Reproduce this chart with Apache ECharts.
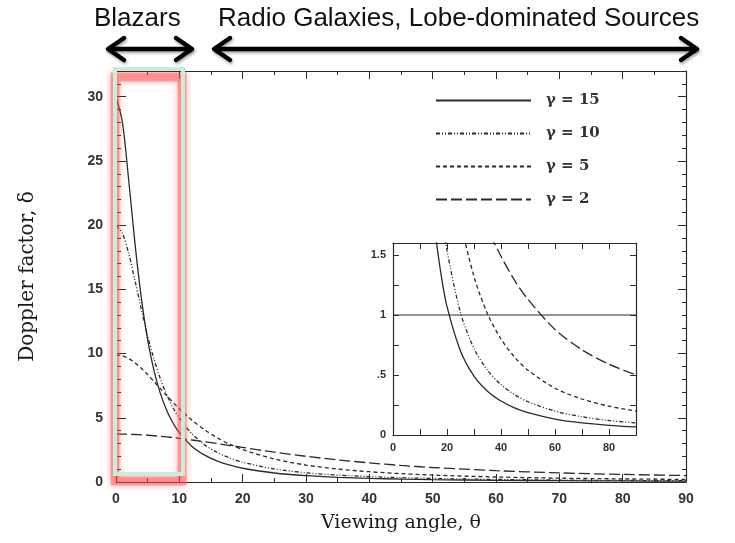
<!DOCTYPE html>
<html>
<head>
<meta charset="utf-8">
<script src="https://cdn.jsdelivr.net/npm/echarts@6/dist/echarts.min.js"></script>
<style>
  html, body { margin: 0; padding: 0; background: #fff; }
  #chart { width: 735px; height: 543px; }
</style>
</head>
<body>
<div id="chart"></div>
<script>
// viewing angle (deg) and Doppler factor
const theta = [0, 1, 2, 3, 4, 5, 6, 7, 8, 9, 10, 12, 14, 16, 18, 20, 25, 30, 35, 40, 45, 50, 60, 70, 80, 90]
const gamma15 = [29.96, 28.05, 23.53, 18.56, 14.32, 11.07, 8.67, 6.9, 5.59, 4.59, 3.84, 2.77, 2.09, 1.63, 1.31, 1.07, 0.7, 0.49, 0.365, 0.283, 0.226, 0.186, 0.133, 0.101, 0.081, 0.067]
const gamma10 = [19.95, 19.37, 17.8, 15.68, 13.45, 11.36, 9.56, 8.05, 6.8, 5.79, 4.97, 3.74, 2.89, 2.3, 1.86, 1.54, 1.02, 0.72, 0.54, 0.42, 0.337, 0.277, 0.199, 0.152, 0.121, 0.1]
const gamma5 = [9.9, 9.83, 9.61, 9.28, 8.85, 8.36, 7.82, 7.27, 6.73, 6.2, 5.7, 4.81, 4.06, 3.44, 2.93, 2.52, 1.79, 1.32, 1.01, 0.8, 0.65, 0.54, 0.39, 0.3, 0.24, 0.2]
const gamma2 = [3.73, 3.73, 3.72, 3.7, 3.67, 3.64, 3.6, 3.56, 3.51, 3.46, 3.4, 3.27, 3.13, 2.99, 2.84, 2.69, 2.32, 2.0, 1.72, 1.49, 1.29, 1.13, 0.88, 0.71, 0.59, 0.5]
const unityX = [0, 90]
const unityY = [1, 1]

const seriesDefs = [
  { name: 'γ = 15', values: gamma15, dash: 'solid' },
  { name: 'γ = 10', values: gamma10, dash: [4, 2, 1, 2, 1, 2] },
  { name: 'γ = 5', values: gamma5, dash: [4, 3] },
  { name: 'γ = 2', values: gamma2, dash: [11, 4] },
]

const ink = '#2a2a2a'
const pair = (xs, ys) => xs.map((x, i) => [x, ys[i]])

const chart = echarts.init(document.getElementById('chart'), null, { renderer: 'canvas' })

const frameAxis = {
  axisLine: { show: true, onZero: false, lineStyle: { color: ink, width: 1.2 } },
  splitLine: { show: false },
}

const tickLabel = { color: '#333', fontFamily: 'Liberation Sans', fontWeight: 'bold', fontSize: 14 }
const insetLabel = { color: '#333', fontFamily: 'Liberation Sans', fontWeight: 'bold', fontSize: 11 }
const titleFont = { color: '#1a1a1a', fontFamily: 'DejaVu Serif', fontSize: 19 }

const series = []
seriesDefs.forEach((s) => {
  const base = {
    type: 'line',
    name: s.name,
    symbol: 'none',
    smooth: 0.3,
    clip: true,
    data: pair(theta, s.values),
    lineStyle: { color: ink, width: 1.3, type: s.dash },
    itemStyle: { color: ink },
  }
  series.push({ ...base, xAxisIndex: 0, yAxisIndex: 0 })
  series.push({ ...base, xAxisIndex: 2, yAxisIndex: 2 })
})
series.push({
  type: 'line',
  name: 'unity',
  symbol: 'none',
  xAxisIndex: 2,
  yAxisIndex: 2,
  data: pair(unityX, unityY),
  lineStyle: { color: ink, width: 1 },
})

const arrowStyle = {
  stroke: '#000', lineWidth: 4.5, lineCap: 'round', lineJoin: 'round', fill: 'none',
  shadowBlur: 3, shadowColor: 'rgba(0,0,0,0.35)', shadowOffsetX: 1, shadowOffsetY: 2,
}

const option = {
  animation: false,
  backgroundColor: '#fff',
  grid: [
    { left: 116, right: 49, top: 71, bottom: 61 },
    { left: 393, top: 243, width: 243, height: 192, show: true, backgroundColor: '#fff', borderWidth: 0 },
  ],
  legend: {
    data: seriesDefs.map((s) => s.name),
    orient: 'vertical',
    left: 430,
    top: 88,
    itemWidth: 95,
    itemHeight: 14,
    itemGap: 18,
    itemStyle: { opacity: 0 },
    textStyle: { color: '#333', fontFamily: 'DejaVu Serif', fontWeight: 'bold', fontSize: 15, padding: [0, 0, 0, 10] },
  },
  xAxis: [
    {
      ...frameAxis, gridIndex: 0, type: 'value', position: 'bottom', min: 0, max: 90, interval: 10,
      axisTick: { show: true, inside: true, length: 8, lineStyle: { color: ink } },
      minorTick: { show: true, splitNumber: 2, length: 4, lineStyle: { color: ink } },
      axisLabel: { ...tickLabel, margin: 10 },
      name: 'Viewing angle, θ', nameLocation: 'middle', nameGap: 32,
      nameTextStyle: titleFont,
    },
    {
      ...frameAxis, gridIndex: 0, type: 'value', position: 'top', min: 0, max: 90, interval: 10,
      axisTick: { show: true, inside: true, length: 8, lineStyle: { color: ink } },
      minorTick: { show: true, splitNumber: 2, length: 4, lineStyle: { color: ink } },
      axisLabel: { show: false },
    },
    {
      ...frameAxis, gridIndex: 1, type: 'value', position: 'bottom', min: 0, max: 90, interval: 10,
      axisTick: { show: true, inside: true, length: 6, lineStyle: { color: ink } },
      axisLabel: { ...insetLabel, margin: 7, formatter: (v) => (v % 20 === 0 ? String(v) : '') },
    },
    {
      ...frameAxis, gridIndex: 1, type: 'value', position: 'top', min: 0, max: 90, interval: 10,
      axisTick: { show: true, inside: true, length: 6, lineStyle: { color: ink } },
      axisLabel: { show: false },
    },
  ],
  yAxis: [
    {
      ...frameAxis, gridIndex: 0, type: 'value', position: 'left', min: 0, max: 32, interval: 5,
      axisTick: { show: true, inside: true, length: 10, lineStyle: { color: ink } },
      minorTick: { show: true, splitNumber: 5, length: 5, lineStyle: { color: ink } },
      axisLabel: { ...tickLabel, margin: 13, showMaxLabel: false },
      name: 'Doppler factor, δ', nameLocation: 'middle', nameGap: 78, nameRotate: 90,
      nameTextStyle: { ...titleFont, fontSize: 20 },
    },
    {
      ...frameAxis, gridIndex: 0, type: 'value', position: 'right', min: 0, max: 32, interval: 5,
      axisTick: { show: true, inside: true, length: 8, lineStyle: { color: ink } },
      minorTick: { show: true, splitNumber: 5, length: 4, lineStyle: { color: ink } },
      axisLabel: { show: false },
    },
    {
      ...frameAxis, gridIndex: 1, type: 'value', position: 'left', min: 0, max: 1.6, interval: 0.25,
      axisTick: { show: true, inside: true, length: 6, lineStyle: { color: ink } },
      axisLabel: {
        ...insetLabel, margin: 7, showMaxLabel: false,
        formatter: (v) => ({ 0: '0', 0.5: '.5', 1: '1', 1.5: '1.5' }[v] || ''),
      },
    },
    {
      ...frameAxis, gridIndex: 1, type: 'value', position: 'right', min: 0, max: 1.6, interval: 0.25,
      axisTick: { show: true, inside: true, length: 6, lineStyle: { color: ink } },
      axisLabel: { show: false },
    },
  ],
  series: series,
  graphic: [
    // highlight box over the blazar range
    {
      type: 'rect', z: 100, silent: true,
      shape: { x: 115, y: 77, width: 67, height: 404 },
      style: { fill: 'none', stroke: 'rgba(255,70,70,0.45)', lineWidth: 9, shadowBlur: 7, shadowColor: 'rgba(255,60,60,0.8)' },
    },
    {
      type: 'rect', z: 101, silent: true,
      shape: { x: 115, y: 69, width: 68, height: 405 },
      style: { fill: 'none', stroke: '#c6efdb', lineWidth: 4 },
    },
    // annotations above the plot
    {
      type: 'text', left: 94, top: 6, z: 100,
      style: { text: 'Blazars', fill: '#111', font: '26px "Liberation Sans"' },
    },
    {
      type: 'text', left: 218, top: 6, z: 100,
      style: { text: 'Radio Galaxies, Lobe-dominated Sources', fill: '#111', font: '26px "Liberation Sans"' },
    },
    {
      type: 'group', z: 100,
      children: [
        [108, 192],
        [214, 697],
      ].flatMap(([a, b]) => [
        { type: 'line', shape: { x1: a + 2, y1: 49, x2: b - 2, y2: 49 } },
        { type: 'polyline', shape: { points: [[a + 16, 38], [a, 49], [a + 16, 60]] } },
        { type: 'polyline', shape: { points: [[b - 16, 38], [b, 49], [b - 16, 60]] } },
      ]).map((el) => ({ ...el, style: arrowStyle })),
    },
  ],
}

chart.setOption(option)
</script>
</body>
</html>
